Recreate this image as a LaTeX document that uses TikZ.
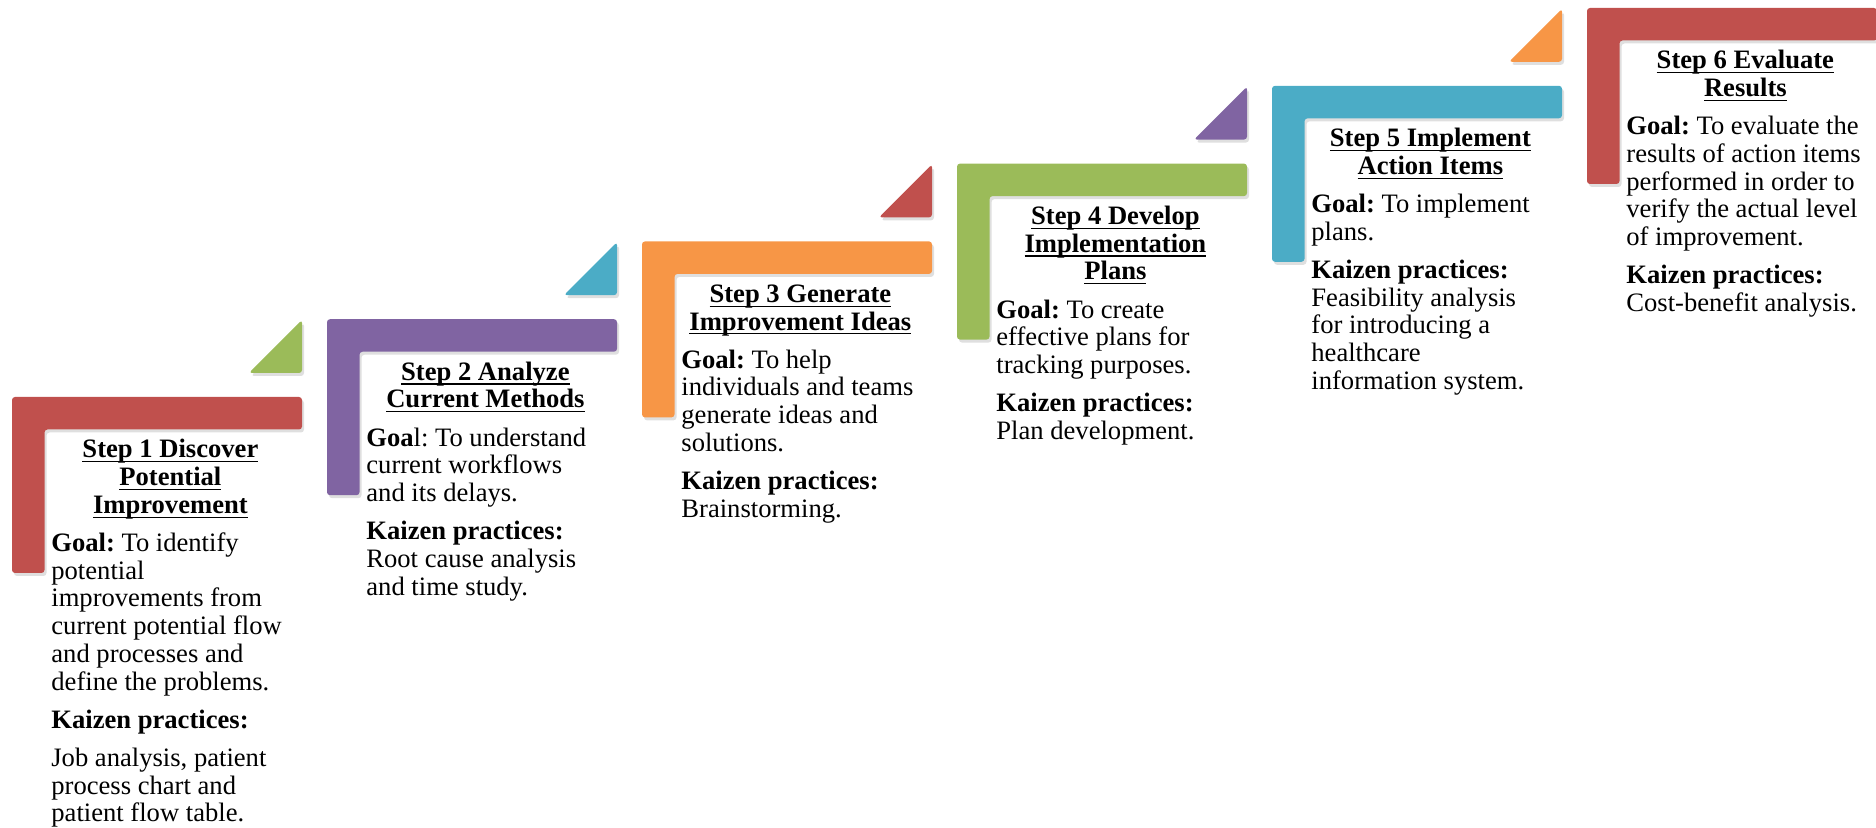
\documentclass[tikz,border=0pt]{standalone}
\usepackage{fontspec}
\setmainfont{Liberation Serif}
\usetikzlibrary{shadows}
\definecolor{kred}{HTML}{C0504D}
\definecolor{kpurple}{HTML}{8064A2}
\definecolor{korange}{HTML}{F79646}
\definecolor{kgreen}{HTML}{9BBB59}
\definecolor{kteal}{HTML}{4BACC6}
\frenchspacing
\newcommand{\sthead}[1]{\makebox[119pt]{\bfseries\setbox0\hbox{#1}\rlap{\rule[-2.2pt]{\wd0}{0.6pt}}\box0}}
\newcommand{\stepbox}[1]{\begin{minipage}[t]{140pt}\raggedright\fontsize{13.3}{13.85}\selectfont\setlength{\parskip}{5.25pt}#1\end{minipage}}

\begin{document}
\begin{tikzpicture}[x=0.5pt,y=-0.5pt,
	stepbar/.style={fill=#1, rounded corners=1.5pt, drop shadow={shadow xshift=1pt, shadow yshift=-1.5pt, opacity=0.25}},
	stepinfo/.style={anchor=base west, inner sep=0pt}]
	\useasboundingbox (0,0) rectangle (1876,828);
	\foreach \i/\col in {0/kred,1/kpurple,2/korange,3/kgreen,4/kteal,5/kred}{
		\pgfmathsetmacro{\bx}{12+315*\i}
		\pgfmathsetmacro{\by}{397-77.8*\i}
		\path[stepbar=\col] (\bx,\by) -- ++(290,0) -- ++(0,32.5) -- ++(-257.5,0) -- ++(0,143.5) -- ++(-32.5,0) -- cycle;
	}
	\foreach \i/\col in {0/kgreen,1/kteal,2/kred,3/kpurple,4/korange}{
		\pgfmathsetmacro{\bx}{12+315*\i+290}
		\pgfmathsetmacro{\by}{397-77.8*\i-24}
		\path[stepbar=\col] (\bx,\by) -- ++(-53,0) -- ++(53,-53) -- cycle;
	}

	\node[stepinfo] (step1) at (51,458) {\stepbox{\sthead{Step 1 Discover}\\\sthead{Potential}\\\sthead{Improvement}\par
		\textbf{Goal:} To identify\\potential\\improvements from\\current potential flow\\and processes and\\define the problems.\par
		\textbf{Kaizen practices:}\par
		Job analysis, patient\\process chart and\\patient flow table.}};
	\node[stepinfo] (step2) at (366,380.2) {\stepbox{\sthead{Step 2 Analyze}\\\sthead{Current Methods}\par
		\textbf{Goa}l: To understand\\current workflows\\and its delays.\par
		\textbf{Kaizen practices:}\\Root cause analysis\\and time study.}};
	\node[stepinfo] (step3) at (681,302.4) {\stepbox{\sthead{Step 3 Generate}\\\sthead{Improvement Ideas}\par
		\textbf{Goal:} To help\\individuals and teams\\generate ideas and\\solutions.\par
		\textbf{Kaizen practices:}\\Brainstorming.}};
	\node[stepinfo] (step4) at (996,224.6) {\stepbox{\sthead{Step 4 Develop}\\\sthead{Implementation}\\\sthead{Plans}\par
		\textbf{Goal:} To create\\effective plans for\\tracking purposes.\par
		\textbf{Kaizen practices:}\\Plan development.}};
	\node[stepinfo] (step5) at (1311,146.8) {\stepbox{\sthead{Step 5 Implement}\\\sthead{Action Items}\par
		\textbf{Goal:} To implement\\plans.\par
		\textbf{Kaizen practices:}\\Feasibility analysis\\for introducing a\\healthcare\\information system.}};
	\node[stepinfo] (step6) at (1626,69) {\stepbox{\sthead{Step 6 Evaluate}\\\sthead{Results}\par
		\textbf{Goal:} To evaluate the\\results of action items\\performed in order to\\verify the actual level\\of improvement.\par
		\textbf{Kaizen practices:}\\Cost-benefit analysis.}};
\end{tikzpicture}
\end{document}
